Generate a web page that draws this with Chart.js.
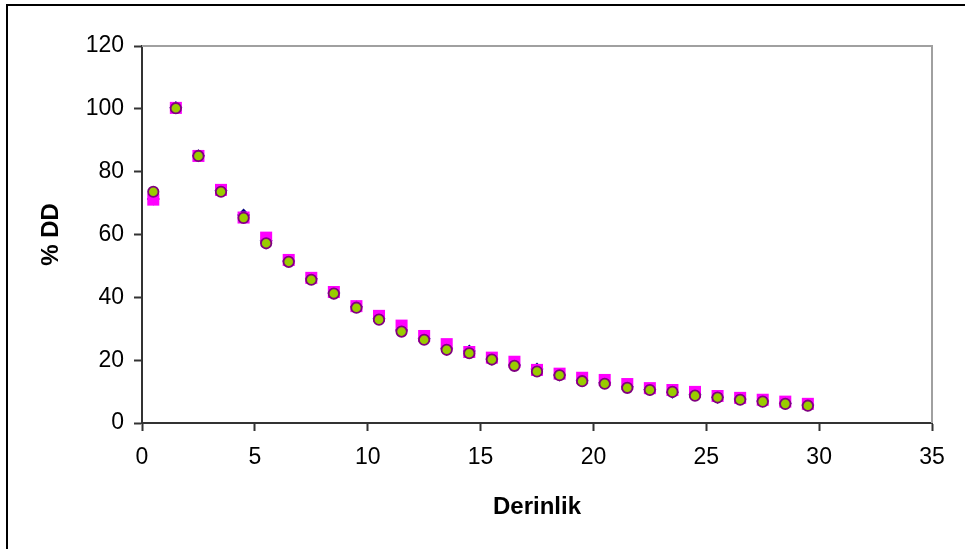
<!DOCTYPE html>
<html>
<head>
<meta charset="utf-8">
<script src="https://cdn.jsdelivr.net/npm/chart.js@4/dist/chart.umd.min.js"></script>
<style>
  html, body { margin: 0; padding: 0; background: #fff; }
  #wrap { position: relative; width: 965px; height: 549px; overflow: hidden; }
  #frame { position: absolute; left: 6px; top: 4px; width: 1200px; height: 800px;
           border-top: 2px solid #000; border-left: 2px solid #000; }
  #chart { position: absolute; left: 0; top: 0; }
</style>
</head>
<body>
<div id="wrap">
  <div id="frame"></div>
  <canvas id="chart" width="965" height="549"></canvas>
</div>
<script>
// depth values (cm)
const depths = [0.5, 1.5, 2.5, 3.5, 4.5, 5.5, 6.5, 7.5, 8.5, 9.5,
                10.5, 11.5, 12.5, 13.5, 14.5, 15.5, 16.5, 17.5, 18.5, 19.5,
                20.5, 21.5, 22.5, 23.5, 24.5, 25.5, 26.5, 27.5, 28.5, 29.5];

// % DD, three measurement series
const seriesBlue = [71.3, 100.4, 85.1, 74.0, 66.2, 58.0, 51.6, 45.9, 41.4, 37.0,
                    33.2, 29.6, 26.9, 23.8, 22.9, 20.4, 18.5, 17.2, 15.3, 13.6,
                    12.8, 11.5, 10.7, 9.8, 9.0, 8.2, 7.6, 7.0, 6.3, 5.7];
const seriesPink = [71.1, 100.3, 85.0, 74.2, 65.4, 59.0, 51.9, 46.2, 41.7, 37.2,
                    34.1, 31.0, 27.7, 25.1, 22.6, 20.8, 19.5, 16.9, 15.7, 14.4,
                    13.7, 12.4, 11.1, 10.5, 9.9, 8.6, 8.0, 7.4, 6.8, 6.1];
const seriesGreen = [73.6, 100.2, 85.0, 73.6, 65.3, 57.2, 51.3, 45.6, 41.2, 36.7,
                     32.9, 29.1, 26.5, 23.3, 22.2, 20.2, 18.2, 16.4, 15.2, 13.3,
                     12.5, 11.2, 10.5, 9.9, 8.7, 8.1, 7.4, 6.8, 6.1, 5.5];

const xTicks = [0, 5, 10, 15, 20, 25, 30, 35];
const yTicks = [0, 20, 40, 60, 80, 100, 120];

const toPoints = vals => vals.map((v, i) => ({ x: depths[i], y: v }));

const fontFamily = '"Liberation Sans", Arial, sans-serif';

// gray top and right edges of the plot area
const plotFrame = {
    id: 'plotFrame',
    beforeDatasetsDraw(chart) {
        const { ctx, chartArea: a } = chart;
        ctx.save();
        ctx.strokeStyle = '#a0a0a0';
        ctx.lineWidth = 2;
        ctx.beginPath();
        ctx.moveTo(a.left, a.top);
        ctx.lineTo(a.right, a.top);
        ctx.lineTo(a.right, a.bottom);
        ctx.stroke();
        ctx.restore();
    }
};

new Chart(document.getElementById('chart'), {
    type: 'scatter',
    data: {
        datasets: [
            {
                label: 'Seri 3',
                data: toPoints(seriesGreen),
                pointStyle: 'circle',
                pointRadius: 5.2,
                backgroundColor: '#99cc00',
                borderColor: '#800080',
                borderWidth: 1.8,
                order: 1
            },
            {
                label: 'Seri 2',
                data: toPoints(seriesPink),
                pointStyle: 'rect',
                pointRadius: 8.5,
                backgroundColor: '#ff00ff',
                borderColor: '#ff00ff',
                borderWidth: 0,
                order: 2
            },
            {
                label: 'Seri 1',
                data: toPoints(seriesBlue),
                pointStyle: 'rectRot',
                pointRadius: 6.5,
                backgroundColor: '#000080',
                borderColor: '#000080',
                borderWidth: 0,
                order: 3
            }
        ]
    },
    options: {
        responsive: false,
        animation: false,
        layout: { padding: { top: 46, right: 33, left: 0, bottom: 0 } },
        plugins: {
            legend: { display: false },
            tooltip: { enabled: false }
        },
        scales: {
            x: {
                type: 'linear',
                min: 0,
                max: 35,
                afterFit: s => { s.height = 126; },
                afterBuildTicks: s => { s.ticks = xTicks.map(v => ({ value: v })); },
                ticks: { color: '#000', font: { family: fontFamily, size: 23 }, padding: 13 },
                grid: { drawOnChartArea: false, color: '#333', tickLength: 8, tickWidth: 2 },
                border: { color: '#333', width: 2 },
                title: {
                    display: true,
                    text: 'Derinlik',
                    color: '#000',
                    font: { family: fontFamily, size: 24, weight: 'bold' },
                    padding: { top: 0, bottom: 27 }
                }
            },
            y: {
                min: 0,
                max: 120,
                afterFit: s => { s.width = 142; },
                afterBuildTicks: s => { s.ticks = yTicks.map(v => ({ value: v })); },
                ticks: { color: '#000', font: { family: fontFamily, size: 23 }, padding: 10 },
                grid: { drawOnChartArea: false, color: '#333', tickLength: 8, tickWidth: 2 },
                border: { color: '#333', width: 2 },
                title: {
                    display: true,
                    text: '% DD',
                    color: '#000',
                    font: { family: fontFamily, size: 24, weight: 'bold' },
                    padding: { top: 37, bottom: 0 }
                }
            }
        }
    },
    plugins: [plotFrame]
});
</script>
</body>
</html>
